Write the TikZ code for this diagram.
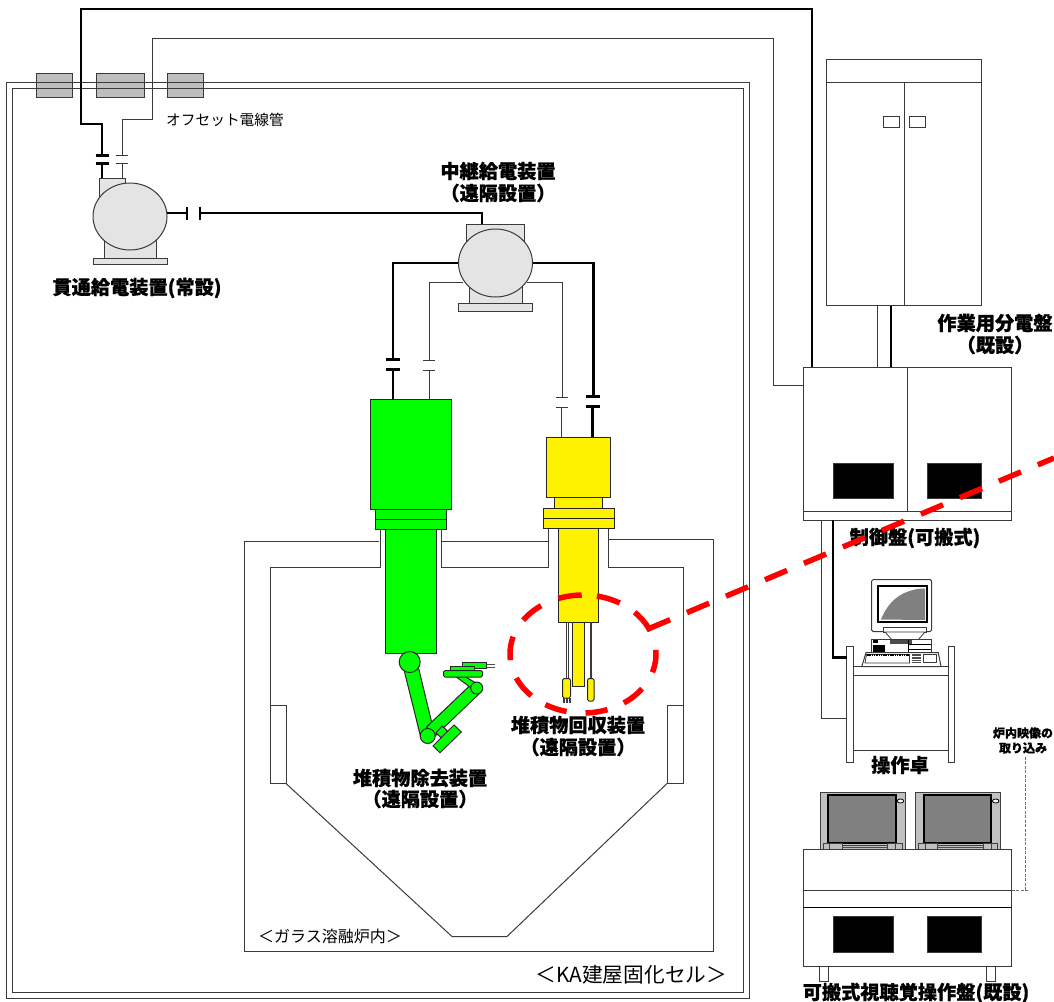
\documentclass[tikz,border=0pt]{standalone}
\usepackage{fontspec}
\setmainfont{Noto Sans CJK JP}[BoldFeatures={FakeBold=0.7}]
\usetikzlibrary{calc,shapes.geometric}
\definecolor{linegray}{HTML}{3A3A3A}
\definecolor{devgray}{HTML}{E4E4E4}
\definecolor{wallbox}{HTML}{BEBEBE}
\definecolor{mongray}{HTML}{808080}
\definecolor{monbody}{HTML}{C0C0C0}
\definecolor{armgreen}{HTML}{00FF00}
\definecolor{dashgray}{HTML}{707070}
\tikzset{
  thinline/.style={draw=linegray,line width=1pt},
  cable/.style={draw=black,line width=2.6pt,line join=miter},
  sigline/.style={draw=linegray,line width=1pt},
  cell/.style={draw=linegray,line width=1pt,fill=white},
  device/.style={draw=linegray,line width=1pt,fill=devgray},
  greenpart/.style={draw=black!85,line width=1pt,fill=armgreen},
  yellowpart/.style={draw=black!85,line width=1pt,fill=yellow},
  blackpanel/.style={fill=black,draw=linegray,line width=.5pt},
  wallsleeve/.style={draw=linegray,line width=1pt,fill=wallbox},
  monbodyst/.style={draw=black!75,line width=1pt,fill=monbody},
  monscreen/.style={draw=black,line width=2pt,fill=mongray},
  reddash/.style={draw=red,line width=5.5pt},
  feeddash/.style={draw=dashgray,line width=1pt,dash pattern=on 3pt off 1.5pt},
  blab/.style={font=\fontsize{19.2}{21}\selectfont\bfseries,inner sep=0pt},
  slab/.style={font=\fontsize{12}{14}\selectfont\bfseries,inner sep=0pt},
  nlab/.style={font=\fontsize{16}{18}\selectfont,inner sep=0pt},
}
% named rectangular node from corner coordinates
\newcommand{\bx}[6]{%
  \pgfmathsetmacro\bxw{#5-#3}\pgfmathsetmacro\bxh{#6-#4}%
  \node[#2,anchor=north west,minimum width=\bxw pt,minimum height=\bxh pt,inner sep=0pt,outer sep=0pt] (#1) at (#3,#4) {};}
% coupling plates on a vertical run
\newcommand{\gapv}[5]{\draw[#1] (#2-#5,#3) -- (#2+#5,#3) (#2-#5,#4) -- (#2+#5,#4);}
\begin{document}
\begin{tikzpicture}[x=1pt,y=-1pt]
\useasboundingbox (0,0) rectangle (1054,1001);
% wall sleeves
\bx{sleeveA}{wallsleeve}{36}{73}{72}{97}
\bx{sleeveB}{wallsleeve}{96}{73}{144}{97}
\bx{sleeveC}{wallsleeve}{167}{73}{203}{97}
% cell walls
\bx{cellOuter}{draw=linegray,line width=1pt}{6.5}{82.5}{749}{998}
\bx{cellInner}{draw=linegray,line width=1pt}{12.5}{88.5}{743.5}{992.5}
% furnace
\draw[thinline] (379,541) -- (244,541) -- (244,951) -- (713,951) -- (713,539) -- (608,539);
\draw[thinline] (441,541.5) -- (548,541.5);
\draw[thinline] (380.5,529) -- (380.5,567) -- (270.5,567) -- (270.5,705);
\draw[thinline] (441,529) -- (441,567) -- (548,567) -- (548,529);
\draw[thinline] (608,529) -- (608,567) -- (683,567) -- (683,705);
\bx{padL}{cell}{270}{705}{286}{783.5}
\bx{padR}{cell}{667}{705}{683}{783.5}
\draw[thinline] (padL.south east) -- (452,936.5) -- (507,936.5) -- (padR.south west);

% penetration feed device
\bx{feedTop}{device}{99}{178}{125.5}{200}
\bx{feedLow}{device}{104}{235}{156.5}{258}
\bx{feedBase}{device}{93.5}{258}{167}{264.5}
\node[device,ellipse,draw,minimum width=74pt,minimum height=67pt,inner sep=0pt] (feedDrum) at (130,216.5) {};
% relay feed device
\bx{relayTop}{device}{466.5}{224}{524.5}{250}
\bx{relayLow}{device}{469}{280}{522}{303.5}
\bx{relayBase}{device}{458.5}{303.5}{532.5}{311}
\node[device,ellipse,draw,minimum width=74pt,minimum height=68pt,inner sep=0pt] (relayDrum) at (495.5,263) {};

% green machine
\bx{gUpper}{greenpart}{370.5}{399.5}{451}{509}
\bx{gFlangeA}{greenpart}{375.5}{509}{446}{519}
\bx{gFlangeB}{greenpart}{375.5}{519}{446}{529}
\bx{gMain}{greenpart}{385.5}{529}{436}{653.5}
% arm
\draw[greenpart] (402.6,664) -- (416.6,660) -- (434.5,734) -- (420.9,738) -- cycle;
\draw[greenpart] (426.5,727) -- (472,683.5) -- (480.5,692.5) -- (435,736) -- cycle;
\draw[greenpart] (455,676) -- (464,676) -- (481,686) -- (474,690) -- cycle;
\node[greenpart,circle,draw,minimum size=21pt,inner sep=0pt] (gShoulder) at (409.7,662) {};
\node[greenpart,circle,draw,minimum size=15pt,inner sep=0pt] (gElbow) at (427.7,736) {};
\node[greenpart,circle,draw,minimum size=12pt,inner sep=0pt] (gWrist) at (476.7,688) {};
\draw[greenpart] (442,726) -- (447.5,731) -- (442,738.5) -- (436,733) -- cycle;
\draw[greenpart] (433,746) -- (454,725) -- (461.3,732) -- (440,752.7) -- cycle;
\fill[black!70] (486.5,662.5) rectangle (495,667.5);
\foreach \yy in {663.5,665,666.5}{\draw[white,line width=.4pt] (487,\yy) -- (495,\yy);}
\bx{gTipA}{greenpart}{462.5}{662}{486.5}{668}
\bx{gTipB}{greenpart}{450.5}{666.5}{474}{670.5}
\draw[greenpart,rounded corners=1.5pt] (443.5,670.5) rectangle (482.5,677);

% yellow machine
\bx{yUpper}{yellowpart}{546.5}{437}{610.5}{497.5}
\bx{yNeck}{yellowpart}{554.5}{497.5}{602.5}{508.5}
\bx{yFlangeA}{yellowpart}{543.5}{508.5}{614.5}{518.5}
\bx{yFlangeB}{yellowpart}{543.5}{518.5}{614.5}{528.5}
\bx{yMain}{yellowpart}{558.5}{528.5}{598.5}{622}
\draw[thinline,fill=white,line width=.8pt] (566.5,622) rectangle (568.5,678);
\draw[thinline,fill=white,line width=.8pt] (590,622) rectangle (591.5,678);
\bx{yRod}{yellowpart}{572.5}{622}{584}{686}
\draw[yellowpart,rounded corners=1.5pt] (562.5,678.5) rectangle (570.5,698);
\draw[yellowpart,rounded corners=1.5pt] (587.5,678.5) rectangle (594,701);
\foreach \xx in {563,564.5,566,567.5,569,570.5}{\draw[linegray,line width=.6pt] (\xx,698) -- (\xx,703);}

% cables: penetration device
\coordinate (ctlTopA) at (812,367);
\draw[cable] (102,178) -- (102,163);
\draw[cable] (102,155) -- (102,124) -- (81,124) -- (81,9) -- (812,9) -- (ctlTopA);
\gapv{cable}{102}{155.5}{163.5}{6.5}
\draw[sigline] (122,178) -- (122,163);
\draw[sigline] (122,155) -- (122,119) -- (152,119) -- (152,38) -- (773,38) -- (773,385) -- (803,385);
\gapv{sigline}{122}{155.5}{163.5}{6}
% feed link
\draw[cable,line width=1.6pt] (167,213) -- (187,213);
\draw[cable] (187,206.5) -- (187,220);
\draw[cable] (200,206.5) -- (200,220);
\draw[cable] (200,213) -- (482,213) -- (482,224);
% relay cables
\draw[cable] (relayDrum.west) -- (393,263) -- (393,359.5);
\draw[cable] (393,369.5) -- (393,399.5);
\gapv{cable}{393}{359.5}{369.5}{7}
\draw[sigline] (463,282) -- (429,282) -- (429,360);
\draw[sigline] (429,370) -- (429,399.5);
\gapv{sigline}{429}{360}{370}{6}
\draw[cable] (relayDrum.east) -- (593.5,263) -- (593.5,396.5);
\draw[cable] (592.5,406.5) -- (592.5,437);
\gapv{cable}{593}{396.5}{406.5}{7}
\draw[sigline] (527,282) -- (562,282) -- (562,397);
\draw[sigline] (561,407) -- (561,437);
\gapv{sigline}{561.5}{397}{407}{6}

% distribution board
\bx{distBoard}{cell}{826.5}{59.5}{981.5}{305.5}
\draw[thinline] (826.5,82.5) -- (981.5,82.5);
\draw[thinline] (904.5,82.5) -- (904.5,305.5);
\bx{distWinL}{cell}{883.5}{116.5}{899.5}{127}
\bx{distWinR}{cell}{909}{116.5}{925.5}{127}
% control panel
\bx{ctlPanel}{cell}{803}{367}{1011.5}{520}
\draw[thinline] (803,511.5) -- (1011.5,511.5);
\draw[thinline] (907.5,367) -- (907.5,511.5);
\bx{ctlBlackL}{blackpanel}{833.5}{463}{893.5}{498.5}
\bx{ctlBlackR}{blackpanel}{927.5}{463}{981}{498.5}
\draw[thinline] (877.5,305.5) -- (877.5,367);
\draw[cable,line width=1.8pt] (891,305.5) -- (891,367);

% console desk
\bx{deskPostL}{cell}{846.5}{646.5}{853}{762.5}
\bx{deskPostR}{cell}{948}{646.5}{954.5}{762.5}
\draw[thinline] (853,666.5) -- (948,666.5) (853,675) -- (948,675) (853,750) -- (948,750);
\draw[thinline] (821,520) -- (821,718) -- (846.5,718);
\draw[cable] (833,520) -- (833,657.5) -- (846.5,657.5);

% computer
\draw[thinline,fill=white,rounded corners=1.5pt] (871.7,579.5) rectangle (931.7,631.5);
\draw[black,line width=2pt,fill=white] (877.5,586) rectangle (926.5,621.5);
\fill[mongray] (881,619.5) .. controls (888,602) and (900,591) .. (921,588.5) -- (925,588.5) -- (925,620) -- cycle;
\draw[cell,line width=.8pt] (883.5,627.5) rectangle (926.5,632);
\draw[cell,line width=.8pt] (885,632) -- (925,632) -- (918,640) -- (892,640) -- cycle;
\draw[cell,line width=.8pt] (871.7,639.5) rectangle (931.7,652);
\fill[black] (872.5,640) rectangle (878,643);
\fill[black] (872.5,645) rectangle (885,652);
\fill[black!70] (890,640) rectangle (912,643.5);
\draw[black,line width=.8pt] (908,644) -- (931,644) (909,649) -- (931,649) (908,640) -- (908,652);
\draw[cell,line width=1pt] (861.7,666.7) -- (866,652.7) -- (938.3,652.7) -- (941,666.7) -- cycle;
\draw[cell,line width=.8pt] (866.5,654.5) -- (909.5,654.5) -- (909.5,663) -- (865,663) -- cycle;
\draw[black,line width=1.6pt,dash pattern=on 1.5pt off .8pt] (867,655) -- (909,655);
\fill[black!70] (911.5,654) rectangle (921,663);
\foreach \yy in {656.5,659,661.5}{\draw[white,line width=.5pt] (911.5,\yy) -- (921,\yy);}
\draw[cell,line width=.8pt] (923.5,654.5) rectangle (936,662.5);

% AV console
\bx{avMonL}{monbodyst}{820}{792.5}{905}{849.5}
\bx{avScreenL}{monscreen}{827.5}{794.5}{895.5}{842.5}
\node[draw=black,line width=.8pt,fill=white,ellipse,minimum width=6.5pt,minimum height=4pt,inner sep=0pt] (avKnobL) at (900.5,801) {};
\bx{avMonR}{monbodyst}{915.7}{792.5}{1000.3}{849.5}
\bx{avScreenR}{monscreen}{923.5}{794.5}{991}{842.5}
\node[draw=black,line width=.8pt,fill=white,ellipse,minimum width=6.5pt,minimum height=4pt,inner sep=0pt] (avKnobR) at (995.7,801) {};
\foreach \ox in {0,95.5}{
  \draw[monbodyst,line width=.8pt] (823+\ox,843) rectangle (829.5+\ox,849.5);
  \draw[monbodyst,line width=.8pt] (829.5+\ox,843) rectangle (842+\ox,849.5);
  \draw[monbodyst,line width=.8pt] (842+\ox,845) rectangle (887.5+\ox,849.5);
  \draw[black!70,line width=.8pt] (842+\ox,847.5) -- (887.5+\ox,847.5);
  \draw[monbodyst,line width=.8pt] (887.5+\ox,843) rectangle (895.5+\ox,849.5);
  \draw[monbodyst,line width=.8pt] (895.5+\ox,843) rectangle (902+\ox,849.5);
}
\bx{avFootL}{cell}{819.5}{966}{828}{981}
\bx{avFootR}{cell}{986.5}{966}{995.5}{981}
\bx{avDesk}{cell}{803}{849.5}{1011.5}{966}
\draw[thinline] (803,890) -- (1011.5,890);
\draw[draw=black,line width=1pt] (803,907.5) -- (1011.5,907.5);
\bx{avBlackL}{blackpanel}{833.5}{916.5}{893}{952}
\bx{avBlackR}{blackpanel}{927.5}{916.5}{981}{952}
\draw[feeddash] (1011.5,890) -- (1029,890);
\draw[feeddash] (1025,890) -- (1025,755);

% labels
\node[nlab,font=\fontsize{14.7}{16}\selectfont,anchor=west] (lOffset) at (166,120) {オフセット電線管};
\node[blab] (lFeed) at (137,288) {貫通給電装置(常設)};
\node[blab] (lRelayA) at (498,171) {中継給電装置};
\node[blab] (lRelayB) at (498,193) {（遠隔設置）};
\node[blab] (lSweepA) at (420,778) {堆積物除去装置};
\node[blab] (lSweepB) at (420,799) {（遠隔設置）};
\node[blab] (lCollectA) at (578,725) {堆積物回収装置};
\node[blab] (lCollectB) at (578,747) {（遠隔設置）};
\node[blab] (lDistA) at (995,323) {作業用分電盤};
\node[blab] (lDistB) at (995,345) {（既設）};
\node[blab] (lCtl) at (915,538) {制御盤(可搬式)};
\node[blab] (lDesk) at (900,765) {操作卓};
\node[blab] (lAV) at (916,993) {可搬式視聴覚操作盤(既設)};
\node[slab] (lImgA) at (1023,733) {炉内映像の};
\node[slab] (lImgB) at (1023,748) {取り込み};
\node[nlab,font=\fontsize{16}{18}\selectfont] (lFurn) at (330,936) {＜ガラス溶融炉内＞};
\node[nlab,font=\fontsize{20.7}{22}\selectfont] (lCell) at (631.5,975) {＜KA建屋固化セル＞};

% red call-out
\foreach \aa/\bb in {109.7/91,79/59.8,45/23,4/-18,-36/-56,-70.4/-88,-103/-121,-135/-156,-174/-197,145/125}{
  \draw[reddash] plot[domain=\aa:\bb,samples=10,smooth] ({583+73*cos(\x)},{654-59*sin(\x)});
}
\coordinate (redStart) at (648,629);
\coordinate (redEnd) at (1054,458);
\draw[reddash,dash pattern=on 24pt off 18.3pt] (redStart) -- (redEnd);
\end{tikzpicture}
\end{document}
